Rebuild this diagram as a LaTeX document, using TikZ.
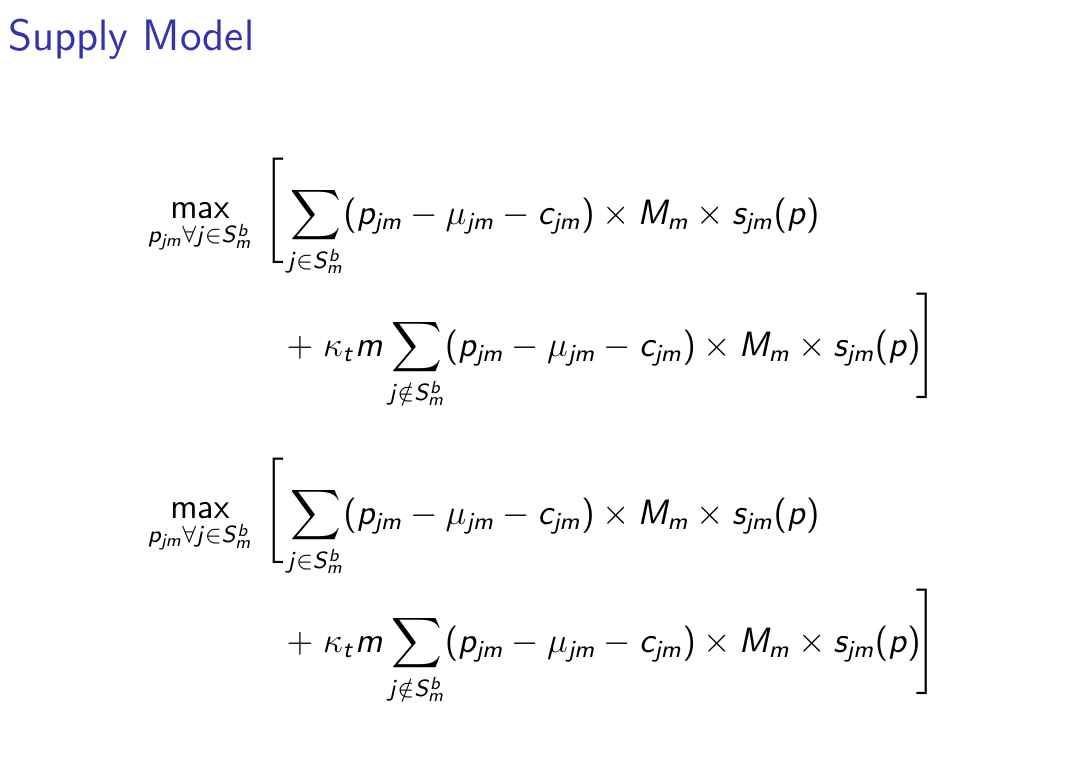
\documentclass[tikz,border=0pt]{standalone}
\usepackage{amsmath}
\DeclareSymbolFont{sfl}{OT1}{cmss}{m}{sl}
\SetSymbolFont{operators}{normal}{OT1}{cmss}{m}{n}
\newcount\ltrcnt
\ltrcnt=`a
\loop\ifnum\ltrcnt<\numexpr`z+1\relax
  \mathcode\ltrcnt=\numexpr"7000+\symsfl*256+\ltrcnt\relax
  \advance\ltrcnt by 1
\repeat
\ltrcnt=`A
\loop\ifnum\ltrcnt<\numexpr`Z+1\relax
  \mathcode\ltrcnt=\numexpr"7000+\symsfl*256+\ltrcnt\relax
  \advance\ltrcnt by 1
\repeat
\definecolor{titleblue}{RGB}{51,51,178}
\tikzset{
  mathtxt/.style={inner sep=0pt, font=\fontsize{11.5}{13}\selectfont, anchor=base west},
  maxnode/.style={inner sep=0pt, font=\fontsize{11.5}{13}\selectfont, anchor=base},
  brk/.style={inner sep=0pt, font=\fontsize{11.5}{13}\selectfont, anchor=center}
}
\begin{document}
\begin{tikzpicture}[x=0.012cm,y=-0.012cm]
\fill[white] (0,0) rectangle (1068,778);
\node[inner sep=0pt,anchor=base west,text=titleblue,font=\fontsize{15}{17}\sffamily\selectfont] (title) at (8,50) {Supply Model};
\foreach \dy/\n in {0/a,300/b}{
  \node[maxnode] (max\n) at (200,218+\dy) {$\displaystyle\max_{p_{jm}\forall j\in S_m^b}$};
  \node[brk] (lb\n) at (276,211+\dy) {$\left[\vcenter{\hbox{\rule{0pt}{1.36cm}}}\right.$};
  \node[mathtxt] (l1\n) at (287,224+\dy) {$\displaystyle\sum_{j\in S_m^b}(p_{jm}-\mu_{jm}-c_{jm})\times M_m\times s_{jm}(p)$};
  \node[mathtxt] (l2\n) at (286,356+\dy-4*\dy/300) {$\displaystyle+\;\kappa_t m\sum_{j\notin S_m^b}(p_{jm}-\mu_{jm}-c_{jm})\times M_m\times s_{jm}(p)$};
  \node[brk] (rb\n) at (925,346+\dy-4*\dy/300) {$\left.\vcenter{\hbox{\rule{0pt}{1.36cm}}}\right]$};
}
\end{tikzpicture}
\end{document}
